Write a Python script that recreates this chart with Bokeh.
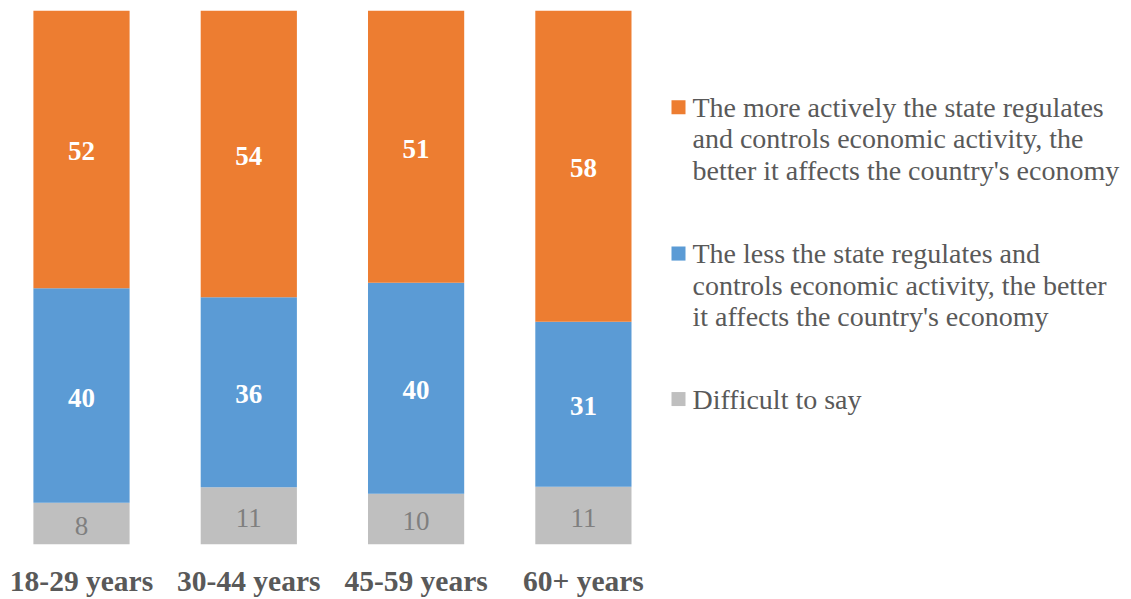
from bokeh.plotting import figure
from bokeh.models import ColumnDataSource, Range1d, FixedTicker
from bokeh.core.properties import value
from bokeh.embed import file_html
from bokeh.resources import INLINE

categories = ["18-29 years", "30-44 years", "45-59 years", "60+ years"]
# segment sizes (percent)
difficult = [7.8, 10.7, 9.5, 10.8]
less_state = [40.2, 35.6, 39.5, 30.9]
more_state = [52.0, 53.7, 51.0, 58.3]
# data labels as printed on the chart
difficult_labels = ["8", "11", "10", "11"]
less_labels = ["40", "36", "40", "31"]
more_labels = ["52", "54", "51", "58"]

series_names = ["difficult", "less", "more"]
colors = ["#BFBFBF", "#5B9BD5", "#ED7D31"]
legend_lines = [
    ["The more actively the state regulates",
     "and controls economic activity, the",
     "better it affects the country's economy"],
    ["The less the state regulates and",
     "controls economic activity, the better",
     "it affects the country's economy"],
    ["Difficult to say"],
]
legend_colors = ["#ED7D31", "#5B9BD5", "#BFBFBF"]

W, H = 1131, 599
top_b, bot_b = 10, 53
frame_h = H - top_b - bot_b
px_per_unit = 167.3
x_start = -81 / px_per_unit
x_end = x_start + W / px_per_unit

FONT = "Liberation Serif"

p = figure(width=W, height=H, output_backend="svg", toolbar_location=None,
           x_range=Range1d(x_start, x_end), y_range=Range1d(0, 100),
           min_border_left=0, min_border_right=0, min_border_top=top_b,
           min_border_bottom=bot_b)
p.outline_line_color = None
p.background_fill_color = "white"
p.border_fill_color = "white"
p.grid.visible = False
p.yaxis.visible = False

xs = list(range(len(categories)))
src = ColumnDataSource(dict(x=xs, difficult=difficult, less=less_state, more=more_state))
p.vbar_stack(series_names, x="x", width=0.575, color=colors, line_color=None, source=src)

# data labels
d_mid = [d / 2 for d in difficult]
l_mid = [d + l / 2 for d, l in zip(difficult, less_state)]
m_mid = [d + l + m / 2 for d, l, m in zip(difficult, less_state, more_state)]
p.text(x=xs, y=d_mid, text=difficult_labels, text_font=value(FONT),
       text_font_size="27px", text_color="#7F7F7F", text_align="center",
       text_baseline="middle", y_offset=2)
p.text(x=xs, y=l_mid, text=less_labels, text_font=value(FONT),
       text_font_size="27px", text_font_style="bold", text_color="white",
       text_align="center", text_baseline="middle", y_offset=2)
p.text(x=xs, y=m_mid, text=more_labels, text_font=value(FONT),
       text_font_size="27px", text_font_style="bold", text_color="white",
       text_align="center", text_baseline="middle", y_offset=2)

# legend (pixel layout converted to data)
def dx(px):
    return x_start + px / px_per_unit

def dy(py):
    return (top_b + frame_h - py) / frame_h * 100

group_first_y = [107, 254, 400]
line_gap = 31.8
for lines, col, y0 in zip(legend_lines, legend_colors, group_first_y):
    p.scatter(x=[dx(678)], y=[dy(y0)], marker="square", size=14, color=col, line_color=None)
    ys = [dy(y0 + i * line_gap) for i in range(len(lines))]
    p.text(x=[dx(692)] * len(lines), y=ys, text=lines, text_font=value(FONT),
           text_font_size="28px", text_color="#595959", text_align="left",
           text_baseline="middle")

ax = p.xaxis[0]
ax.ticker = FixedTicker(ticks=xs)
ax.major_label_overrides = {i: c for i, c in enumerate(categories)}
ax.axis_line_color = None
ax.major_tick_line_color = None
ax.minor_tick_line_color = None
ax.major_tick_out = 0
ax.major_label_standoff = 20
ax.major_label_text_font = FONT
ax.major_label_text_font_size = "29.5px"
ax.major_label_text_font_style = "bold"
ax.major_label_text_color = "#595959"

open("out.html", "w").write(file_html(p, INLINE))
